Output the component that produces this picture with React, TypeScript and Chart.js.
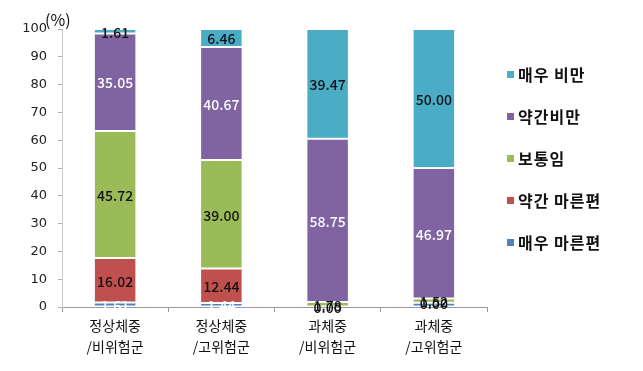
import React, { useEffect, useRef } from "react";
import { Chart, registerables } from "chart.js";

Chart.register(...registerables);

const categories: string[][] = [
  ["정상체중", "/비위험군"],
  ["정상체중", "/고위험군"],
  ["과체중", "/비위험군"],
  ["과체중", "/고위험군"],
];

const veryThin = [1.61, 1.44, 0.0, 1.52];
const slightlyThin = [16.02, 12.44, 0.0, 0.0];
const normal = [45.72, 39.0, 1.78, 1.52];
const slightlyObese = [35.05, 40.67, 58.75, 46.97];
const veryObese = [1.61, 6.46, 39.47, 50.0];

const yTicks = [0, 10, 20, 30, 40, 50, 60, 70, 80, 90, 100];

const seriesNames = ["매우 마른편", "약간 마른편", "보통임", "약간비만", "매우 비만"];
const seriesColors = ["#4F81BD", "#C0504D", "#9BBB59", "#8064A2", "#4BACC6"];
const labelColors = ["#ffffff", "#111111", "#111111", "#ffffff", "#111111"];

const FONT = "'Noto Sans CJK KR', 'Noto Sans', sans-serif";

export default function App() {
  const ref = useRef<HTMLCanvasElement | null>(null);

  useEffect(() => {
    if (!ref.current) return;
    const series = [veryThin, slightlyThin, normal, slightlyObese, veryObese];

    const dataLabels = {
      id: "dataLabels",
      afterDatasetsDraw(chart: any) {
        const ctx = chart.ctx;
        ctx.save();
        ctx.font = `500 14px ${FONT}`;
        ctx.textAlign = "center";
        ctx.textBaseline = "middle";
        chart.data.datasets.forEach((ds: any, di: number) => {
          const meta = chart.getDatasetMeta(di);
          meta.data.forEach((el: any, i: number) => {
            const { x, y, base } = el.getProps(["x", "y", "base"], true);
            ctx.fillStyle = labelColors[di];
            ctx.fillText(Number(ds.data[i]).toFixed(2), x, (y + base) / 2 + 1);
          });
        });
        ctx.restore();
      },
    };

    const extras = {
      id: "extras",
      afterDraw(chart: any) {
        const ctx = chart.ctx;
        const area = chart.chartArea;
        ctx.save();
        // unit label
        ctx.font = `16px ${FONT}`;
        ctx.fillStyle = "#111";
        ctx.textAlign = "left";
        ctx.textBaseline = "middle";
        ctx.fillText("(%)", area.left - 17, area.top - 9);
        // legend (reverse order)
        const lx = area.right + 20;
        let ly = area.top + 46;
        try {
          (ctx as any).letterSpacing = "1px";
        } catch (e) {}
        for (let k = seriesNames.length - 1; k >= 0; k--) {
          ctx.fillStyle = seriesColors[k];
          ctx.fillRect(lx, ly - 4, 7, 7);
          ctx.fillStyle = "#111";
          ctx.font = `bold 16px ${FONT}`;
          ctx.fillText(seriesNames[k], lx + 11, ly);
          ly += 42;
        }
        ctx.restore();
      },
    };

    const chart = new Chart(ref.current, {
      type: "bar",
      data: {
        labels: categories,
        datasets: series.map((d, i) => ({
          label: seriesNames[i],
          data: d,
          backgroundColor: seriesColors[i],
          borderColor: "rgba(255,255,255,0.85)",
          borderWidth: 1,
          borderSkipped: false,
          categoryPercentage: 1,
          barPercentage: 0.4,
        })),
      },
      options: {
        animation: false,
        responsive: false,
        maintainAspectRatio: false,
        layout: { padding: { top: 29, right: 156, left: 0, bottom: 0 } },
        plugins: {
          legend: { display: false },
          tooltip: { enabled: false },
        },
        scales: {
          x: {
            stacked: true,
            grid: {
              display: true,
              drawOnChartArea: false,
              drawTicks: true,
              tickLength: 5,
              color: "#9a9a9a",
              offset: true,
            },
            border: { color: "#9a9a9a" },
            ticks: {
              color: "#111",
              font: { family: FONT, size: 14, lineHeight: 1.45 },
              padding: 4,
              maxRotation: 0,
              autoSkip: false,
            },
            afterFit(scale: any) {
              scale.height = 64;
            },
          },
          y: {
            stacked: true,
            min: 0,
            max: 100,
            afterBuildTicks(scale: any) {
              scale.ticks = yTicks.map((v) => ({ value: v }));
            },
            grid: {
              display: true,
              drawOnChartArea: false,
              drawTicks: true,
              tickLength: 4,
              color: "#b0b0b0",
            },
            border: { color: "#c8c8c8" },
            ticks: {
              color: "#222",
              font: { family: "'DejaVu Sans', sans-serif", size: 13 },
              padding: 11,
            },
            afterFit(scale: any) {
              scale.width = 62;
            },
          },
        },
      },
      plugins: [dataLabels, extras],
    });
    return () => chart.destroy();
  }, []);

  return (
    <div style={{ position: "absolute", left: 0, top: 0, width: 643, height: 371, background: "#fff" }}>
      <canvas ref={ref} width={643} height={371} style={{ width: 643, height: 371, display: "block" }} />
    </div>
  );
}
